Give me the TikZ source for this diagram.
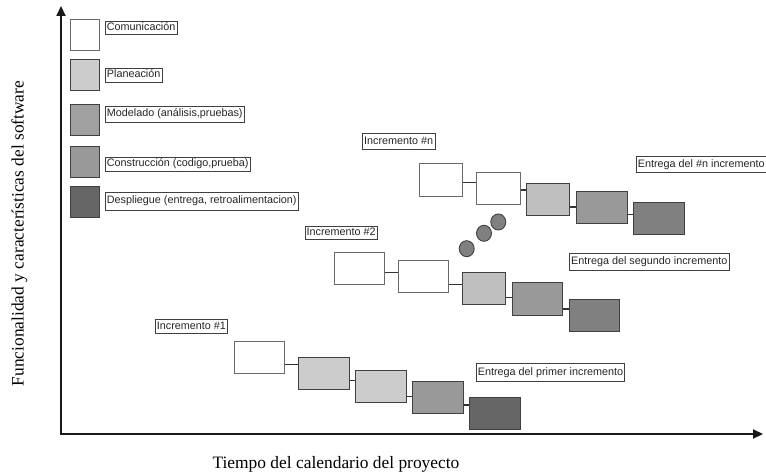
\documentclass[tikz,border=0pt]{standalone}
\usepackage{fontspec}
\setmainfont{Liberation Serif}
\newfontfamily\labfont{Liberation Sans}
\usetikzlibrary{arrows.meta,shapes.geometric,calc}
\definecolor{cwhite}{HTML}{FFFFFF}
\definecolor{cplan}{HTML}{CCCCCC}
\definecolor{cplanb}{HTML}{BFBFBF}
\definecolor{cmod}{HTML}{A0A0A0}
\definecolor{ccons}{HTML}{999999}
\definecolor{cdesp}{HTML}{666666}
\definecolor{cdespb}{HTML}{808080}
\definecolor{cedge}{HTML}{404040}
\definecolor{cwedge}{HTML}{6A6A6A}
\tikzset{
  phasebox/.style={draw=cedge, line width=0.9pt, inner sep=0pt, anchor=north west},
  whitebox/.style={phasebox, draw=cwedge, fill=white},
  lab/.style={draw=cedge, line width=0.6pt, anchor=west, inner xsep=1.6pt, inner ysep=0pt,
    font=\labfont\fontsize{10.8}{13}\selectfont, text height=7.9pt, text depth=2.3pt, text=black!85},
  conn/.style={draw=black!80, line width=1.2pt},
  axisline/.style={draw=black!90, line width=2.2pt, {Triangle[length=10pt,width=9pt]}-{Triangle[length=10pt,width=9pt]}},
  dotst/.style={ellipse, draw=cedge, line width=0.9pt, fill=cdespb, minimum width=15pt, minimum height=16pt, inner sep=0pt},
  legsq/.style={phasebox, minimum width=29pt, minimum height=31.5pt},
  axtitle/.style={font=\fontsize{17.4}{20}\selectfont, anchor=base, inner sep=0pt}
}
\newcommand{\linkat}[3]{\draw[conn] (#1.east |- 0,#3) -- (#2.west |- 0,#3);}
\begin{document}
\begin{tikzpicture}[x=1pt,y=-1pt]
\useasboundingbox (0,0) rectangle (766,473);
\fill[white] (0,0) rectangle (766,473);
% axes
\coordinate (ytop) at (61,6);
\coordinate (orig) at (61,434);
\coordinate (xend) at (763,434);
\draw[axisline] (ytop) -- (orig) -- (xend);
\node[axtitle] (xlab) at (336,468) {Tiempo del calendario del proyecto};
\node[axtitle, rotate=90] (ylab) at (23.5,233.5) {Funcionalidad y características del software};
% legend
\node[legsq, draw=cwedge, fill=white] (l1) at (70,19) {};
\node[legsq, fill=cplan] (l2) at (70,59) {};
\node[legsq, fill=cmod] (l3) at (70,104) {};
\node[legsq, fill=ccons] (l4) at (70,146) {};
\node[legsq, fill=cdesp] (l5) at (70,186) {};
\node[lab, minimum height=13pt] (t1) at (105,27.5) {Comunicación};
\node[lab, minimum height=14pt] (t2) at (105,75) {Planeación};
\node[lab, minimum height=16pt] (t3) at (105,114) {Modelado (análisis,pruebas)};
\node[lab, minimum height=14pt] (t4) at (105,164) {Construcción (codigo,prueba)};
\node[lab, minimum height=18pt] (t5) at (105,201) {Despliegue (entrega, retroalimentacion)};
% increment 1
\node[whitebox, minimum width=50.5pt, minimum height=32pt] (a1) at (233.5,340.7) {};
\node[phasebox, fill=cplan, minimum width=50.4pt, minimum height=32pt] (a2) at (298.3,356.7) {};
\node[phasebox, fill=cplan, minimum width=50.4pt, minimum height=32pt] (a3) at (355.3,370.3) {};
\node[phasebox, fill=ccons, minimum width=50.4pt, minimum height=31.7pt] (a4) at (412.3,381) {};
\node[phasebox, fill=cdesp, minimum width=50.7pt, minimum height=32.3pt] (a5) at (469.3,396.7) {};
\linkat{a1}{a2}{364.3}
\linkat{a2}{a3}{380.3}
\linkat{a3}{a4}{396.7}
\linkat{a4}{a5}{405}
% increment 2
\node[whitebox, minimum width=50pt, minimum height=32pt] (b1) at (334,252.3) {};
\node[whitebox, minimum width=50pt, minimum height=32.3pt] (b2) at (397.7,260) {};
\node[phasebox, fill=cplanb, minimum width=42.7pt, minimum height=32pt] (b3) at (462.3,272.3) {};
\node[phasebox, fill=ccons, minimum width=50.3pt, minimum height=32.7pt] (b4) at (511.7,282) {};
\node[phasebox, fill=cdespb, minimum width=49.7pt, minimum height=32pt] (b5) at (569.3,299.3) {};
\linkat{b1}{b2}{272.7}
\linkat{b2}{b3}{284.3}
\linkat{b3}{b4}{297.7}
\linkat{b4}{b5}{309}
% increment n
\node[whitebox, minimum width=43.3pt, minimum height=32.4pt] (c1) at (419,163.3) {};
\node[whitebox, minimum width=43.4pt, minimum height=32pt] (c2) at (476.3,172.3) {};
\node[phasebox, fill=cplanb, minimum width=43.3pt, minimum height=32.3pt] (c3) at (526,183) {};
\node[phasebox, fill=ccons, minimum width=50.7pt, minimum height=32.3pt] (c4) at (576,190.7) {};
\node[phasebox, fill=cdespb, minimum width=51pt, minimum height=32.3pt] (c5) at (632.7,202) {};
\linkat{c1}{c2}{182.3}
\linkat{c2}{c3}{190}
\linkat{c3}{c4}{207}
\linkat{c4}{c5}{214.7}
% dots
\node[dotst] (d1) at (466.7,248.7) {};
\node[dotst] (d2) at (484,233.3) {};
\node[dotst] (d3) at (498.3,222) {};
% increment labels
\node[lab, minimum height=16pt] (in) at (362.3,141.3) {Incremento \#n};
\node[lab, minimum height=13pt] (i2) at (304.7,232.7) {Incremento \#2};
\node[lab, minimum height=14.5pt] (i1) at (155,326.5) {Incremento \#1};
\node[lab, minimum height=16pt] (en) at (636,164.7) {Entrega del \#n incremento};
\node[lab, minimum height=17pt] (e2) at (569.3,261.6) {Entrega del segundo incremento};
\node[lab, minimum height=18pt] (e1) at (476,372.2) {Entrega del primer incremento};
\end{tikzpicture}
\end{document}
